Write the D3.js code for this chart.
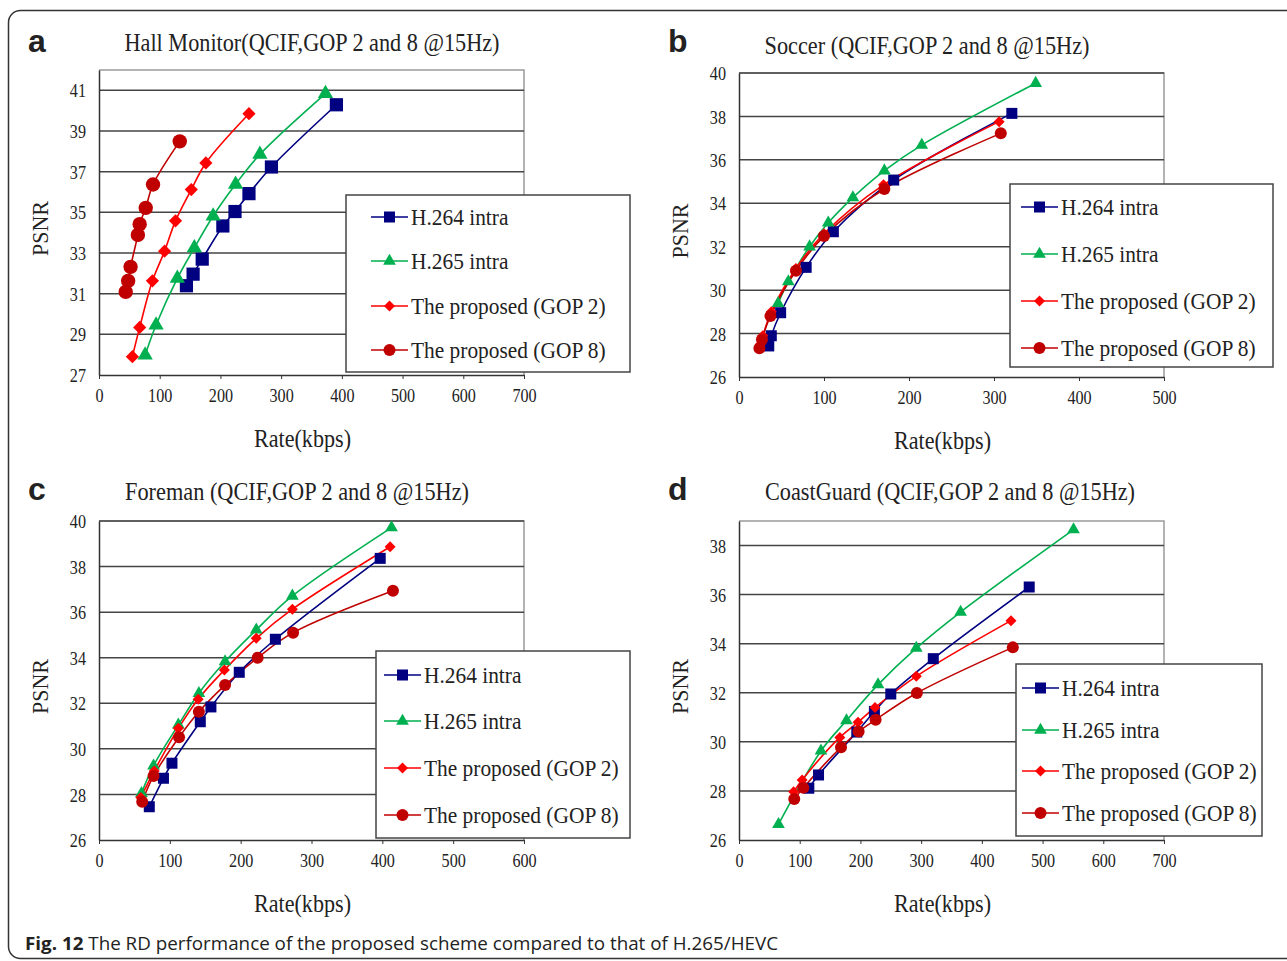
<!DOCTYPE html>
<html>
<head>
<meta charset="utf-8">
<script src="https://cdn.jsdelivr.net/npm/d3@7"></script>
<style>
  body { margin: 0; background: #fff; }
  svg text { font-family: "Liberation Serif", "DejaVu Serif", serif; fill: #222; }
</style>
</head>
<body>
<div id="chart"></div>
<script>
// series names (legend order)
const seriesNames = ["H.264 intra", "H.265 intra", "The proposed (GOP 2)", "The proposed (GOP 8)"]
const seriesColors = ["#000080", "#00b050", "#ff0000", "#c00000"]
const seriesShapes = ["square", "triangle", "diamond", "circle"]

// [rate kbps, PSNR]
const hallH264 = [[144, 31.39], [155, 31.96], [170, 32.70], [204, 34.33], [224, 35.04], [247, 35.92], [284, 37.23], [391, 40.29]]
const hallH265 = [[76, 27.98], [94, 29.46], [129, 31.75], [157, 33.25], [188, 34.82], [225, 36.38], [265, 37.85], [373, 40.84]]
const hallGop2 = [[55, 27.9], [67, 29.34], [88, 31.63], [108, 33.09], [126, 34.58], [152, 36.12], [176, 37.43], [247, 39.85]]
const hallGop8 = [[44, 31.09], [48, 31.63], [52, 32.32], [64, 33.89], [67, 34.42], [77, 35.22], [89, 36.37], [133, 38.49]]

const soccerH264 = [[35, 27.43], [38, 27.9], [49, 28.96], [79, 31.05], [111, 32.69], [182, 35.07], [321, 38.14]]
const soccerH265 = [[46, 29.39], [58, 30.39], [83, 32.0], [105, 33.1], [134, 34.26], [171, 35.5], [215, 36.68], [349, 39.53]]
const soccerGop2 = [[25, 27.5], [28, 27.9], [38, 29.0], [67, 31.0], [100, 32.6], [170, 34.85], [306, 37.76]]
const soccerGop8 = [[24, 27.32], [27, 27.73], [37, 28.81], [67, 30.89], [100, 32.49], [171, 34.66], [308, 37.22]]

const foremanH264 = [[71, 27.46], [91, 28.71], [103, 29.37], [143, 31.19], [158, 31.84], [198, 33.36], [249, 34.81], [397, 38.36]]
const foremanH265 = [[60, 28.05], [77, 29.26], [112, 31.05], [141, 32.44], [178, 33.83], [222, 35.22], [273, 36.71], [413, 39.71]]
const foremanGop2 = [[59, 27.86], [78, 29.03], [112, 30.9], [140, 32.18], [177, 33.46], [222, 34.85], [273, 36.13], [411, 38.87]]
const foremanGop8 = [[61, 27.68], [77, 28.81], [113, 30.51], [141, 31.63], [178, 32.8], [224, 34.0], [274, 35.1], [415, 36.94]]

const coastH264 = [[115, 28.11], [131, 28.65], [194, 30.4], [223, 31.24], [250, 31.95], [320, 33.39], [478, 36.31]]
const coastH265 = [[65, 26.64], [135, 29.63], [177, 30.87], [229, 32.33], [292, 33.82], [365, 35.29], [551, 38.65]]
const coastGop2 = [[90, 27.97], [104, 28.45], [166, 30.18], [196, 30.8], [224, 31.4], [292, 32.67], [448, 34.94]]
const coastGop8 = [[91, 27.67], [106, 28.13], [168, 29.78], [197, 30.42], [225, 30.9], [293, 31.99], [451, 33.85]]

// axis ticks
const xTicksA = [0, 100, 200, 300, 400, 500, 600, 700]
const xTicksB = [0, 100, 200, 300, 400, 500]
const xTicksC = [0, 100, 200, 300, 400, 500, 600]
const yTicksA = [27, 29, 31, 33, 35, 37, 39, 41]
const yTicksBC = [26, 28, 30, 32, 34, 36, 38, 40]
const yTicksD = [26, 28, 30, 32, 34, 36, 38]

const panels = [
    {letter: "a", title: "Hall Monitor(QCIF,GOP 2 and 8 @15Hz)", titleLen: 375, series: [hallH264, hallH265, hallGop2, hallGop8],
     xTicks: xTicksA, yTicks: yTicksA, yMax: 42,
     box: {left: 99, right: 524, top: 70, bottom: 375}, titleX: 312, titleY: 51, letterX: 28, letterY: 52,
     legend: {x: 346, y: 195, w: 284, h: 177, rows: [217, 261, 306, 350], lx: 371}, big: true},
    {letter: "b", title: "Soccer (QCIF,GOP 2 and 8 @15Hz)", titleLen: 325, series: [soccerH264, soccerH265, soccerGop2, soccerGop8],
     xTicks: xTicksB, yTicks: yTicksBC, yMax: 40,
     box: {left: 739, right: 1164, top: 73, bottom: 377}, titleX: 927, titleY: 54, letterX: 668, letterY: 52,
     legend: {x: 1010, y: 184, w: 263, h: 183, rows: [207, 254, 301, 348], lx: 1021}},
    {letter: "c", title: "Foreman (QCIF,GOP 2 and 8 @15Hz)", titleLen: 344, series: [foremanH264, foremanH265, foremanGop2, foremanGop8],
     xTicks: xTicksC, yTicks: yTicksBC, yMax: 40,
     box: {left: 99, right: 524, top: 521, bottom: 840}, titleX: 297, titleY: 500, letterX: 28, letterY: 500,
     legend: {x: 376, y: 651, w: 254, h: 187, rows: [675, 721, 768, 815], lx: 384}},
    {letter: "d", title: "CoastGuard (QCIF,GOP 2 and 8 @15Hz)", titleLen: 370, series: [coastH264, coastH265, coastGop2, coastGop8],
     xTicks: xTicksA, yTicks: yTicksD, yMax: 39,
     box: {left: 739, right: 1164, top: 521, bottom: 840}, titleX: 950, titleY: 500, letterX: 668, letterY: 500,
     legend: {x: 1016, y: 664, w: 246, h: 172, rows: [688, 730, 771, 813], lx: 1022}}
]

const W = 1287, H = 961

const svg = d3.select("#chart").append("svg")
    .attr("width", W)
    .attr("height", H)

// outer frame
svg.append("rect")
    .attr("x", 8.5).attr("y", 10.5)
    .attr("width", 1300).attr("height", 948)
    .attr("rx", 12)
    .attr("fill", "none")
    .attr("stroke", "#333")
    .attr("stroke-width", 1.5)

// squeeze text horizontally (the original font is narrow)
function squeeze(sel, f) {
    sel.each(function() {
        let len = this.getComputedTextLength()
        d3.select(this).attr("textLength", len * f).attr("lengthAdjust", "spacingAndGlyphs")
    })
}

function marker(g, shape, color, cx, cy, big) {
    let k = big ? 1.2 : 1
    if (shape === "square") {
        let s = 11 * k
        g.append("rect").attr("x", cx - s / 2).attr("y", cy - s / 2).attr("width", s).attr("height", s).attr("fill", color)
    } else if (shape === "triangle") {
        g.append("path").attr("transform", `translate(${cx},${cy})`)
            .attr("d", d3.symbol(d3.symbolTriangle, 70 * k * k)()).attr("fill", color)
    } else if (shape === "diamond") {
        let s = 5.5 * k
        g.append("path").attr("d", `M${cx},${cy - s}L${cx + s},${cy}L${cx},${cy + s}L${cx - s},${cy}Z`).attr("fill", color)
    } else {
        g.append("circle").attr("cx", cx).attr("cy", cy).attr("r", 6 * k).attr("fill", color)
    }
}

panels.forEach(p => {
    let b = p.box
    let g = svg.append("g")

    let x = d3.scaleLinear().domain([0, p.xTicks[p.xTicks.length - 1]]).range([b.left, b.right])
    let y = d3.scaleLinear().domain([p.yTicks[0], p.yMax]).range([b.bottom, b.top])

    // top / right border
    g.append("path")
        .attr("d", `M${b.left},${b.top}H${b.right}V${b.bottom}`)
        .attr("fill", "none").attr("stroke", "#9a9a9a").attr("stroke-width", 1.5)

    // grid lines
    g.selectAll(".grid").data(p.yTicks.slice(1)).enter().append("line")
        .attr("x1", b.left).attr("x2", b.right)
        .attr("y1", d => y(d)).attr("y2", d => y(d))
        .attr("stroke", "#444").attr("stroke-width", 1.5)

    // x axis
    let xa = g.append("g").attr("transform", `translate(0,${b.bottom})`)
        .call(d3.axisBottom(x).tickValues(p.xTicks).tickSize(4).tickSizeOuter(0))
    xa.select(".domain").attr("stroke", "#333").attr("stroke-width", 1.5)
    xa.selectAll("line").attr("stroke", "#333")
    xa.selectAll("text").attr("y", 20).attr("dy", "0.35em")
        .style("font-family", "Liberation Serif").attr("font-size", 19).attr("fill", "#333")
        .call(squeeze, 0.85)

    // y axis
    let ya = g.append("g").attr("transform", `translate(${b.left},0)`)
        .call(d3.axisLeft(y).tickValues(p.yTicks).tickSize(0).tickPadding(13).tickSizeOuter(0))
    ya.select(".domain").attr("stroke", "#333").attr("stroke-width", 1.5)
    ya.selectAll("text").attr("dy", "0.35em")
        .style("font-family", "Liberation Serif").attr("font-size", 19).attr("fill", "#333")
        .call(squeeze, 0.85)

    // lines + markers
    let line = d3.line().x(d => x(d[0])).y(d => y(d[1])).curve(d3.curveCatmullRom.alpha(0.5))
    p.series.forEach((s, i) => {
        g.append("path").datum(s).attr("d", line)
            .attr("fill", "none").attr("stroke", seriesColors[i]).attr("stroke-width", 1.6)
    })
    p.series.forEach((s, i) => {
        s.forEach(d => marker(g, seriesShapes[i], seriesColors[i], x(d[0]), y(d[1]), p.big))
    })

    // titles
    g.append("text").attr("x", p.titleX).attr("y", p.titleY)
        .attr("text-anchor", "middle").attr("font-size", 25)
        .attr("textLength", p.titleLen).attr("lengthAdjust", "spacingAndGlyphs")
        .text(p.title)

    g.append("text").attr("x", p.letterX).attr("y", p.letterY)
        .style("font-family", "Liberation Sans, Arial, sans-serif")
        .attr("font-weight", "bold").attr("font-size", 32).attr("fill", "#000")
        .text(p.letter)

    let cx = (b.left + b.right) / 2
    g.append("text").attr("x", cx - 9).attr("y", b.bottom + 72)
        .attr("text-anchor", "middle").attr("font-size", 25)
        .attr("textLength", 97).attr("lengthAdjust", "spacingAndGlyphs")
        .text("Rate(kbps)")

    let cy = (b.top + b.bottom) / 2
    g.append("text").attr("transform", `translate(${b.left - 51},${cy + 6}) rotate(-90)`)
        .attr("text-anchor", "middle").attr("font-size", 24)
        .attr("textLength", 55).attr("lengthAdjust", "spacingAndGlyphs")
        .text("PSNR")

    // legend
    let L = p.legend
    let lg = g.append("g")
    lg.append("rect").attr("x", L.x).attr("y", L.y).attr("width", L.w).attr("height", L.h)
        .attr("fill", "#fff").attr("stroke", "#444").attr("stroke-width", 1.5)
    seriesNames.forEach((name, i) => {
        let ry = L.rows[i]
        lg.append("line").attr("x1", L.lx).attr("x2", L.lx + 37).attr("y1", ry).attr("y2", ry)
            .attr("stroke", seriesColors[i]).attr("stroke-width", 1.6)
        marker(lg, seriesShapes[i], seriesColors[i], L.lx + 18.5, ry, false)
        lg.append("text").attr("x", L.lx + 40).attr("y", ry).attr("dy", "0.35em")
            .attr("font-size", 23).text(name)
            .call(squeeze, 0.93)
    })
})

// caption
let cap = svg.append("text").attr("x", 25).attr("y", 950)
    .style("font-family", "Open Sans, Liberation Sans, sans-serif").attr("font-size", 18.5).attr("fill", "#222")
    .attr("textLength", 753).attr("lengthAdjust", "spacingAndGlyphs")
cap.append("tspan").attr("font-weight", "bold").text("Fig. 12")
cap.append("tspan").text(" The RD performance of the proposed scheme compared to that of H.265/HEVC")
</script>
</body>
</html>
